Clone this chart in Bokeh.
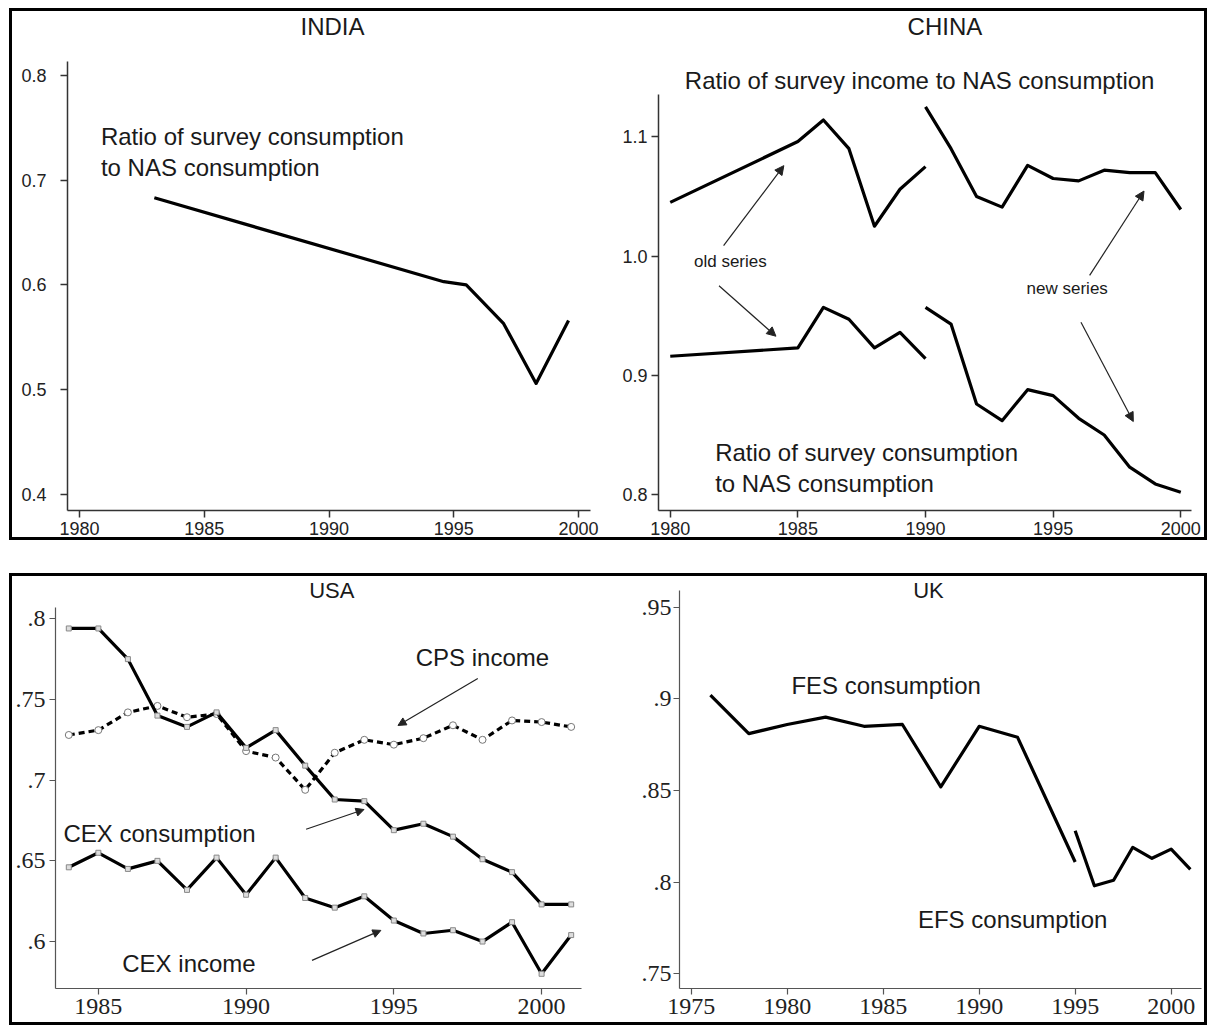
from bokeh.plotting import figure
from bokeh.models import FixedTicker, Label, Arrow, NormalHead, Range1d, Spacer
from bokeh.layouts import row, column
from bokeh.embed import file_html
from bokeh.resources import INLINE

# ---------------- data ----------------
india_years = [1983, 1994.6, 1995.5, 1997, 1998.3, 1999.6]
india_ratio = [0.683, 0.603, 0.600, 0.563, 0.506, 0.566]

china_years_old = [1980, 1985, 1986, 1987, 1988, 1989, 1990]
china_income_old = [1.045, 1.096, 1.114, 1.090, 1.025, 1.056, 1.075]
china_cons_old = [0.916, 0.923, 0.957, 0.947, 0.923, 0.936, 0.914]
china_years_new = [1990, 1991, 1992, 1993, 1994, 1995, 1996, 1997, 1998, 1999, 2000]
china_income_new = [1.125, 1.090, 1.050, 1.041, 1.076, 1.065, 1.063, 1.072, 1.070, 1.070, 1.039]
china_cons_new = [0.957, 0.943, 0.876, 0.862, 0.888, 0.883, 0.864, 0.850, 0.823, 0.809, 0.802]

usa_years = [1984, 1985, 1986, 1987, 1988, 1989, 1990, 1991, 1992, 1993,
             1994, 1995, 1996, 1997, 1998, 1999, 2000, 2001]
usa_cex_cons = [0.794, 0.794, 0.775, 0.740, 0.733, 0.742, 0.720, 0.731, 0.709, 0.688,
                0.687, 0.669, 0.673, 0.665, 0.651, 0.643, 0.623, 0.623]
usa_cps_inc = [0.728, 0.731, 0.742, 0.746, 0.739, 0.741, 0.718, 0.714, 0.694, 0.717,
               0.725, 0.722, 0.726, 0.734, 0.725, 0.737, 0.736, 0.733]
usa_cex_inc = [0.646, 0.655, 0.645, 0.650, 0.632, 0.652, 0.629, 0.652, 0.627, 0.621,
               0.628, 0.613, 0.605, 0.607, 0.600, 0.612, 0.580, 0.604]

uk_years_fes = [1976, 1978, 1980, 1982, 1984, 1986, 1988, 1990, 1992, 1995]
uk_fes = [0.902, 0.881, 0.886, 0.890, 0.885, 0.886, 0.852, 0.885, 0.879, 0.811]
uk_years_efs = [1995, 1996, 1997, 1998, 1999, 2000, 2001]
uk_efs = [0.828, 0.798, 0.801, 0.819, 0.813, 0.818, 0.807]

top_x_ticks = [1980, 1985, 1990, 1995, 2000]
india_y_ticks = [0.4, 0.5, 0.6, 0.7, 0.8]
china_y_ticks = [0.8, 0.9, 1.0, 1.1]
usa_x_ticks = [1985, 1990, 1995, 2000]
usa_y_ticks = [0.6, 0.65, 0.7, 0.75, 0.8]
usa_y_labels = [".6", ".65", ".7", ".75", ".8"]
uk_x_ticks = [1975, 1980, 1985, 1990, 1995, 2000]
uk_y_ticks = [0.75, 0.8, 0.85, 0.9, 0.95]
uk_y_labels = [".75", ".8", ".85", ".9", ".95"]

SANS = "Liberation Sans"
SERIF = "Liberation Serif"


def make_fig(w, h, xr, yr, bl, br, bt, bb):
    p = figure(width=w, height=h, x_range=Range1d(*xr), y_range=Range1d(*yr),
               output_backend="svg", toolbar_location=None,
               min_border_left=bl, min_border_right=br,
               min_border_top=bt, min_border_bottom=bb)
    p.title.visible = False
    p.xgrid.visible = False
    p.ygrid.visible = False
    p.outline_line_color = None
    p.background_fill_color = "white"
    p.border_fill_color = "white"
    return p


def style_axes(p, font, size, color, lw, tick_out, xstand, ystand, ybounds):
    for ax in (p.xaxis[0], p.yaxis[0]):
        ax.axis_line_color = color
        ax.axis_line_width = lw
        ax.major_tick_line_color = color
        ax.major_tick_line_width = lw
        ax.major_tick_out = tick_out
        ax.major_tick_in = 0
        ax.minor_tick_line_color = None
        ax.major_label_text_font = font
        ax.major_label_text_font_size = size
        ax.major_label_text_color = "#222222"
    p.xaxis[0].major_label_standoff = xstand
    p.yaxis[0].major_label_standoff = ystand
    p.yaxis[0].bounds = ybounds


def label(p, x, y, text, size, align="left", baseline="middle", font=SANS):
    p.add_layout(Label(x=x, y=y, text=text, text_font=font, text_font_size=size,
                       text_align=align, text_baseline=baseline, text_color="#1a1a1a"))


def arrow(p, xs, ys, xe, ye, lw=1.2, head=9):
    p.add_layout(Arrow(x_start=xs, y_start=ys, x_end=xe, y_end=ye,
                       line_width=lw, line_color="#222222",
                       end=NormalHead(size=head, fill_color="#222222",
                                      line_color="#222222", line_width=1)))


# ---------------- INDIA ----------------
p1 = make_fig(594, 526, (1979.52, 2000.48), (0.3848, 0.8607), 55, 16, 0, 24)
style_axes(p1, SANS, "18px", "#333333", 1.5, 7, 4, 14, (0.3848, 0.8133))
p1.xaxis[0].ticker = FixedTicker(ticks=top_x_ticks)
p1.yaxis[0].ticker = FixedTicker(ticks=india_y_ticks)
p1.yaxis[0].major_label_overrides = {v: f"{v:.1f}" for v in india_y_ticks}
p1.line(india_years, india_ratio, line_width=3.2, line_color="black", line_join="round")
label(p1, 1990.14, 0.8590, "INDIA", "24px", align="center", baseline="top")
label(p1, 1980.86, 0.7412, "Ratio of survey consumption", "24px")
label(p1, 1980.86, 0.7120, "to NAS consumption", "24px")

# ---------------- CHINA ----------------
p2 = make_fig(598, 526, (1979.54, 2000.42), (0.7867, 1.2050), 52, 13, 0, 24)
style_axes(p2, SANS, "18px", "#333333", 1.5, 7, 4, 4, (0.7867, 1.1358))
p2.xaxis[0].ticker = FixedTicker(ticks=top_x_ticks)
p2.yaxis[0].ticker = FixedTicker(ticks=china_y_ticks)
p2.yaxis[0].major_label_overrides = {v: f"{v:.1f}" for v in china_y_ticks}
for xs, ys in ((china_years_old, china_income_old), (china_years_new, china_income_new),
               (china_years_old, china_cons_old), (china_years_new, china_cons_new)):
    p2.line(xs, ys, line_width=3.2, line_color="black", line_join="round")
label(p2, 1990.76, 1.2035, "CHINA", "24px", align="center", baseline="top")
label(p2, 1989.77, 1.1475, "Ratio of survey income to NAS consumption", "24px", align="center")
label(p2, 1980.93, 0.9958, "old series", "17px")
label(p2, 1993.96, 0.9728, "new series", "17px")
label(p2, 1981.76, 0.8350, "Ratio of survey consumption", "24px")
label(p2, 1981.76, 0.8092, "to NAS consumption", "24px")
arrow(p2, 1982.09, 1.0087, 1984.45, 1.0758)
arrow(p2, 1981.91, 0.9751, 1984.14, 0.9328)
arrow(p2, 1996.43, 0.9838, 1998.56, 1.0545)
arrow(p2, 1996.09, 0.9445, 1998.14, 0.8613)

# ---------------- USA ----------------
p3 = make_fig(594, 446, (1983.55, 2001.35), (0.5709, 0.8262), 42, 25, 0, 34)
style_axes(p3, SERIF, "24px", "#555555", 1.2, 6, 4, 4, (0.5709, 0.8072))
p3.xaxis[0].ticker = FixedTicker(ticks=usa_x_ticks)
p3.yaxis[0].ticker = FixedTicker(ticks=usa_y_ticks)
p3.yaxis[0].major_label_overrides = dict(zip(usa_y_ticks, usa_y_labels))
p3.line(usa_years, usa_cps_inc, line_width=3.2, line_color="black", line_dash="6 4")
p3.scatter(usa_years, usa_cps_inc, marker="circle", size=7, fill_color="white",
           line_color="#777777", line_width=1)
p3.line(usa_years, usa_cex_cons, line_width=3.2, line_color="black", line_join="round")
p3.scatter(usa_years, usa_cex_cons, marker="square", size=5, fill_color="#dddddd",
           line_color="#888888", line_width=1)
p3.line(usa_years, usa_cex_inc, line_width=3.2, line_color="black", line_join="round")
p3.scatter(usa_years, usa_cex_inc, marker="square", size=5, fill_color="#dddddd",
           line_color="#888888", line_width=1)
label(p3, 1992.9, 0.8250, "USA", "22px", align="center", baseline="top")
label(p3, 1995.74, 0.7760, "CPS income", "24px")
label(p3, 1983.82, 0.6671, "CEX consumption", "24px")
label(p3, 1985.81, 0.5865, "CEX income", "24px")
arrow(p3, 1997.84, 0.7630, 1995.14, 0.7339, lw=1.2, head=8)
arrow(p3, 1992.03, 0.6696, 1993.99, 0.6818, lw=1.2, head=8)
arrow(p3, 1992.23, 0.5883, 1994.56, 0.6069, lw=1.2, head=8)

# ---------------- UK ----------------
p4 = make_fig(598, 446, (1974.39, 2001.58), (0.7420, 0.9667), 73, 3, 0, 34)
style_axes(p4, SERIF, "24px", "#555555", 1.2, 6, 4, 2, (0.7420, 0.9591))
p4.xaxis[0].ticker = FixedTicker(ticks=uk_x_ticks)
p4.yaxis[0].ticker = FixedTicker(ticks=uk_y_ticks)
p4.yaxis[0].major_label_overrides = dict(zip(uk_y_ticks, uk_y_labels))
p4.line(uk_years_fes, uk_fes, line_width=3.2, line_color="black", line_join="round")
p4.line(uk_years_efs, uk_efs, line_width=3.2, line_color="black", line_join="round")
label(p4, 1987.36, 0.9660, "UK", "22px", align="center", baseline="top")
label(p4, 1980.22, 0.9073, "FES consumption", "24px")
label(p4, 1986.81, 0.7796, "EFS consumption", "24px")

box = {"border": "3px solid black"}
top = row(p1, p2, styles=box)
bottom = row(p3, p4, styles=box)
body = column(top, Spacer(width=10, height=33), bottom)
layout = column(Spacer(width=10, height=8), row(Spacer(width=9, height=10), body))

open("out.html", "w").write(file_html(layout, INLINE))
